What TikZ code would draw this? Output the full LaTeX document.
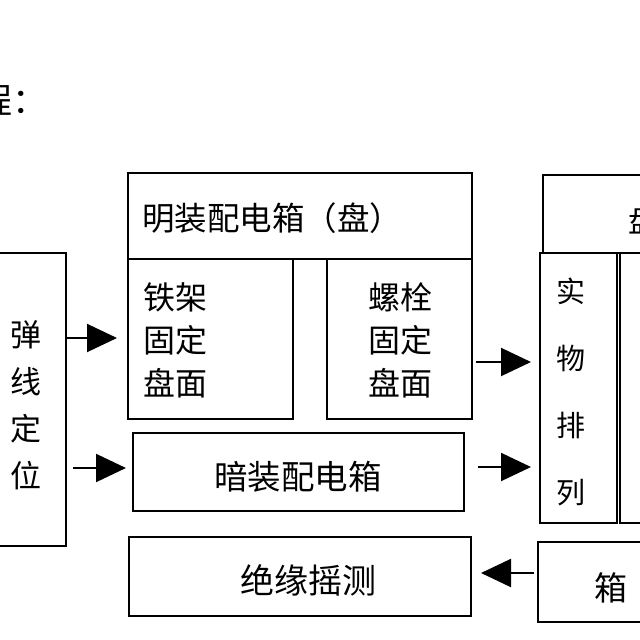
\documentclass[tikz,border=0pt]{standalone}
\usepackage{fontspec}
\newfontfamily\cjk{Noto Sans CJK SC}
\usetikzlibrary{arrows.meta}
\begin{document}
\begin{tikzpicture}[x=1pt,y=-1pt,
  box/.style={draw,line width=2pt,inner sep=0pt,rectangle},
  txt/.style={inner sep=0pt,font=\cjk\fontsize{30}{30}\selectfont},
  arr/.style={line width=2pt,-{Triangle[length=30pt,width=28pt]}}]
\useasboundingbox (0,0) rectangle (640,640);
\clip (0,0) rectangle (640,640);
\fill[white] (0,0) rectangle (640,640);
% title fragment
\node[txt,anchor=west,font=\cjk\fontsize{35}{35}\selectfont] (ttl) at (-23,100) {程：};
% boxes
\node[box,minimum width=86pt,minimum height=293pt] (tx) at (23,399.5) {};
\node[box,minimum width=344pt,minimum height=86pt] (mz) at (300,216) {};
\node[box,minimum width=165pt,minimum height=160pt] (tj) at (210.5,339) {};
\node[box,minimum width=145pt,minimum height=160pt] (ls) at (399.5,339) {};
\node[box,minimum width=331pt,minimum height=78pt] (az) at (298.5,472) {};
\node[box,minimum width=342pt,minimum height=79pt] (jy) at (300,576.5) {};
\node[box,minimum width=127pt,minimum height=78pt] (rt) at (606.5,214) {};
\node[box,minimum width=77pt,minimum height=270pt] (sw) at (578.5,388) {};
\node[box,minimum width=50pt,minimum height=270pt] (rn) at (645,388) {};
\node[box,minimum width=132pt,minimum height=80pt] (xb) at (604,582) {};
% texts
\node[txt,align=center,font=\cjk\fontsize{31}{47}\selectfont] (txt1) at (26,405) {弹\\线\\定\\位};
\node[txt,anchor=west,font=\cjk\fontsize{32.5}{32.5}\selectfont] (txt2) at (142,218) {明装配电箱（盘）};
\node[txt,anchor=west,align=left,font=\cjk\fontsize{32}{43}\selectfont] (txt3) at (143,340) {铁架\\固定\\盘面};
\node[txt,align=left,font=\cjk\fontsize{32}{43}\selectfont] (txt4) at (400,340) {螺栓\\固定\\盘面};
\node[txt,font=\cjk\fontsize{33.5}{33.5}\selectfont] (txt5) at (298,477) {暗装配电箱};
\node[txt,font=\cjk\fontsize{34}{34}\selectfont] (txt6) at (308,580) {绝缘摇测};
\node[txt,anchor=west,font=\cjk\fontsize{31}{31}\selectfont] (txt7) at (628,220) {盘};
\node[txt,align=center,font=\cjk\fontsize{29}{67}\selectfont] (txt8) at (571,392) {实\\物\\排\\列};
\node[txt,font=\cjk\fontsize{33}{33}\selectfont] (txt9) at (611,588) {箱};
% arrows
\draw[arr] (tx.east |- 0,338) -- ([xshift=-10pt]tj.west |- 0,338);
\draw[arr] ([xshift=6pt]tx.east |- 0,468) -- ([xshift=-6pt]az.west |- 0,468);
\draw[arr] ([xshift=3pt]ls.east |- 0,362) -- ([xshift=-8pt]sw.west |- 0,362);
\draw[arr] ([xshift=13pt]az.east |- 0,467) -- ([xshift=-8pt]sw.west |- 0,467);
\draw[arr] ([xshift=-3pt]xb.west |- 0,573) -- ([xshift=9pt]jy.east |- 0,573);
\end{tikzpicture}
\end{document}
